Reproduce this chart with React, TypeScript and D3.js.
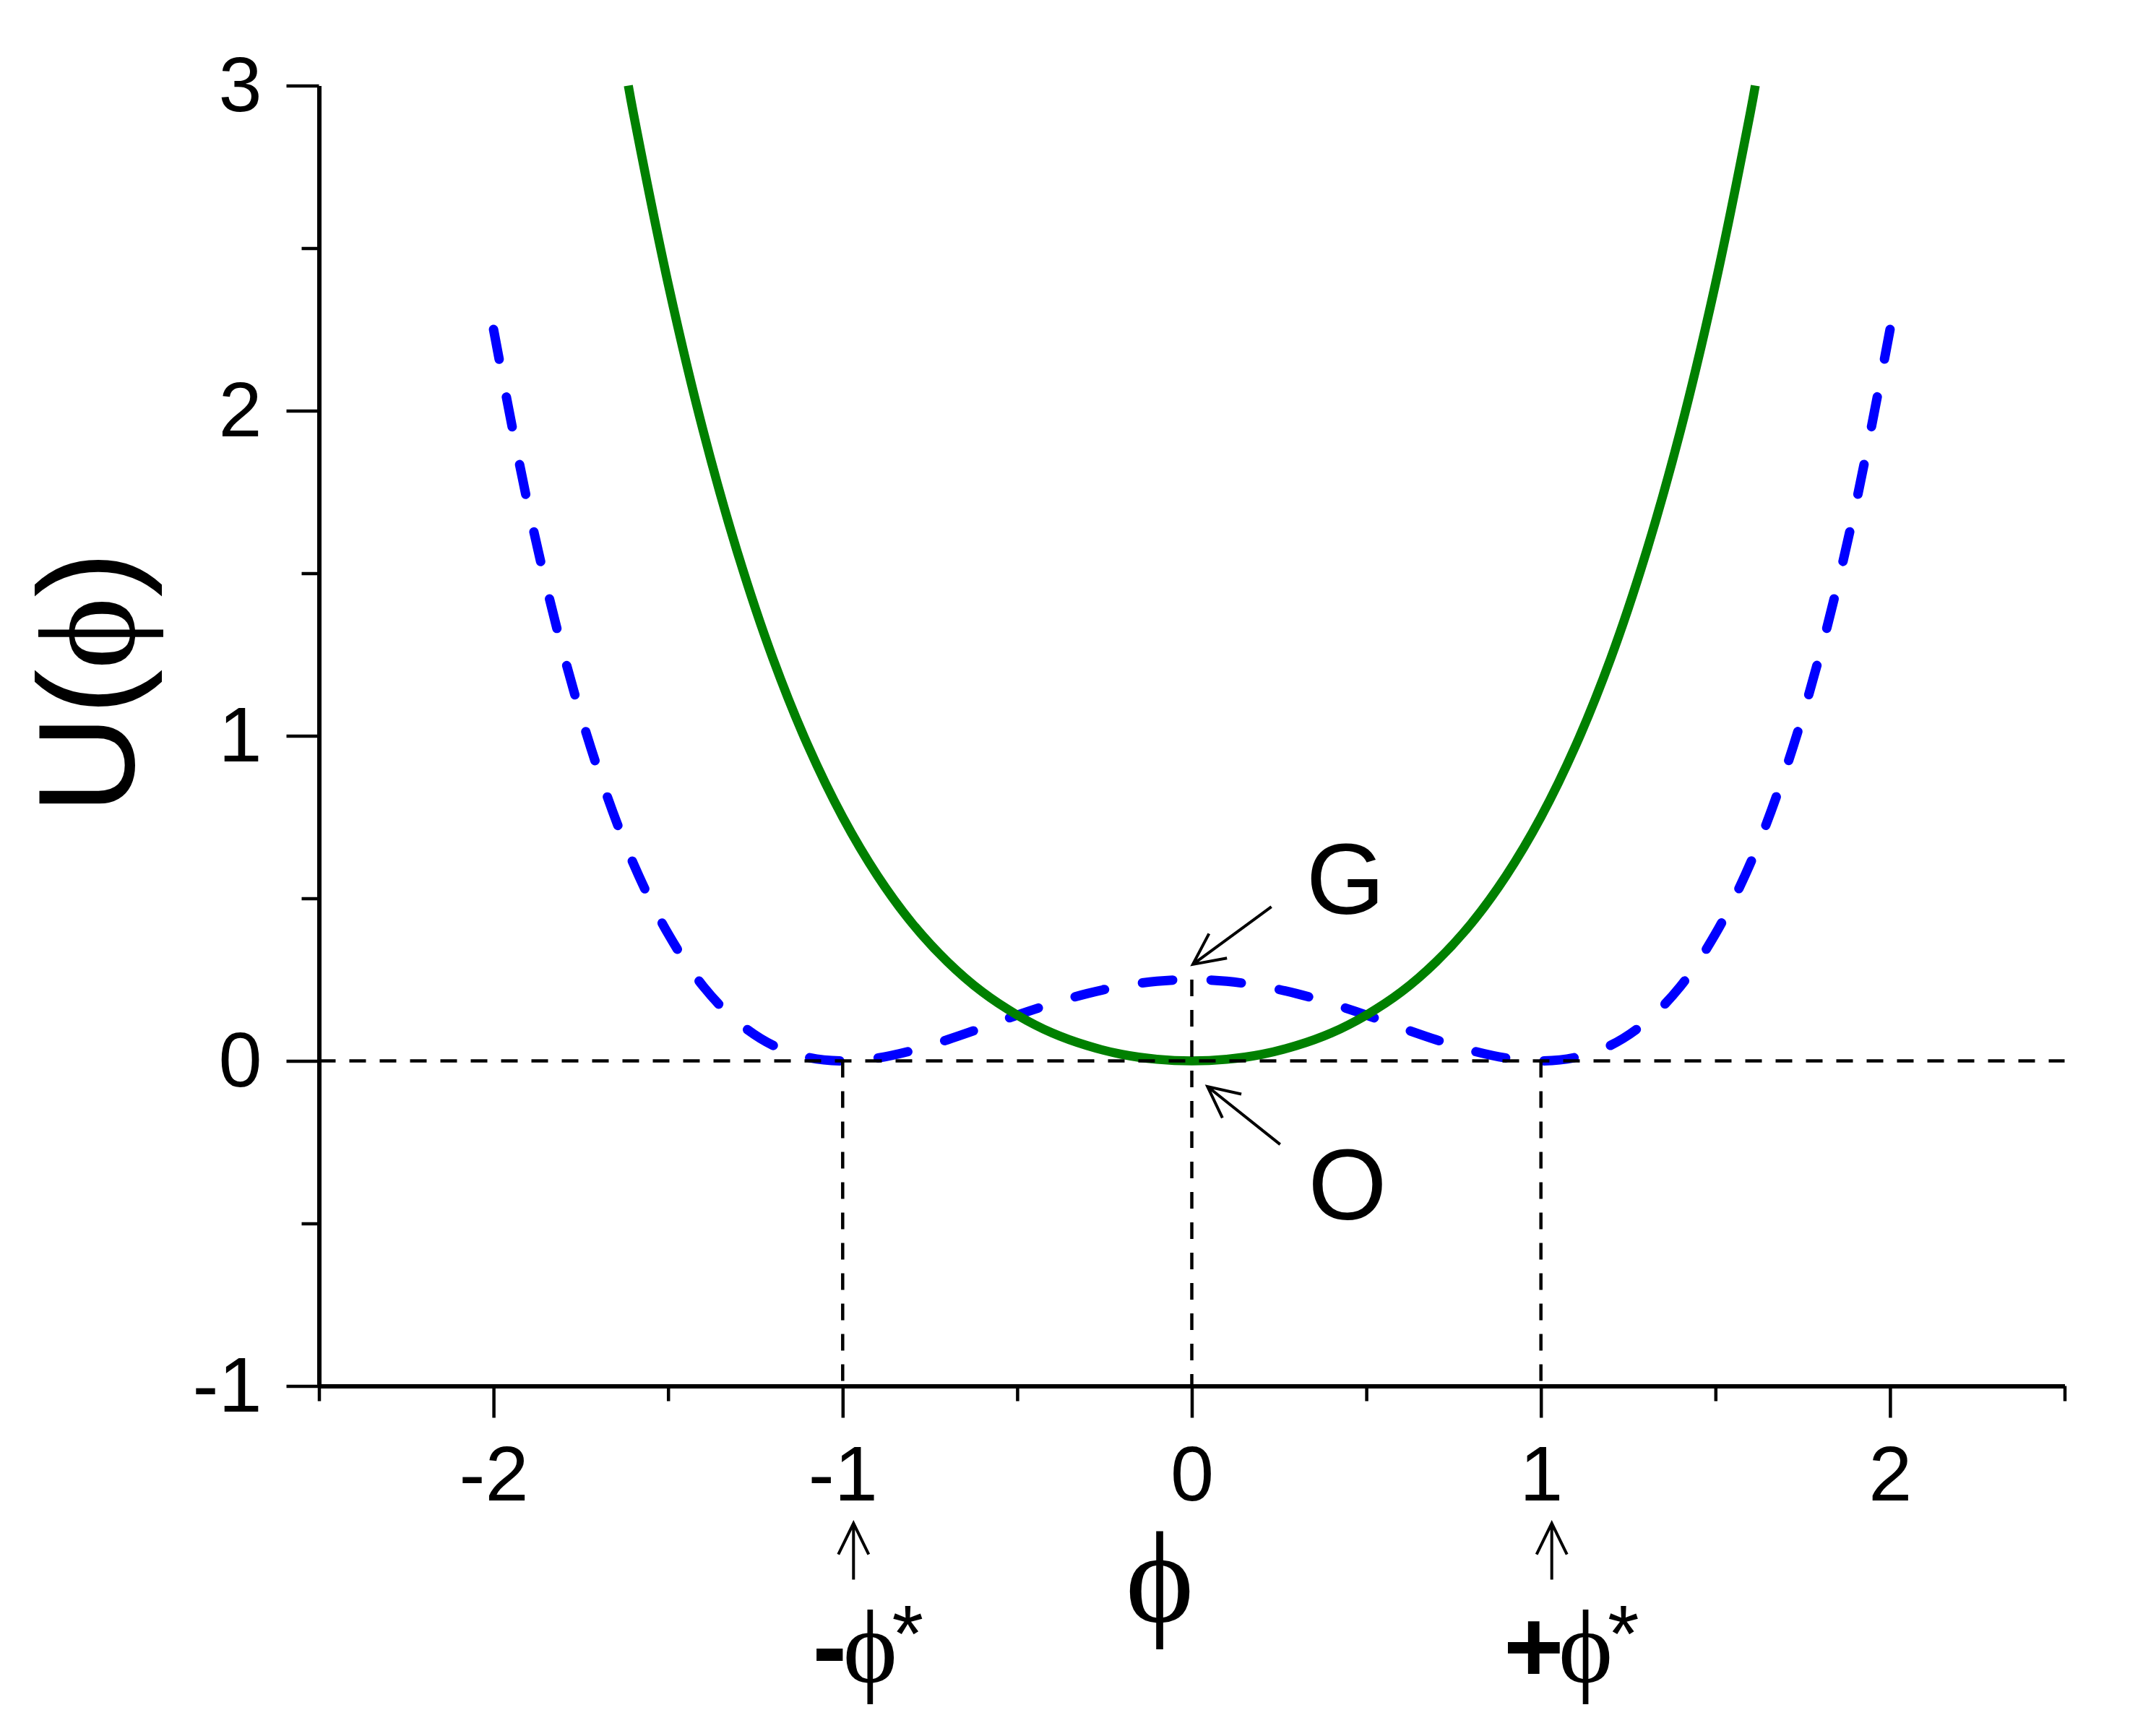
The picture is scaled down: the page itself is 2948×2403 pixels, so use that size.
import React, { useEffect, useRef } from 'react';
import * as d3 from 'd3';

// double well potential (blue, dashed)
const bluePhi = [
  -2, -1.9, -1.8, -1.7, -1.6, -1.5, -1.4, -1.3, -1.2, -1.1, -1, -0.9, -0.8, -0.7, -0.6, -0.5, -0.4, -0.3, -0.2, -0.1,
  0, 0.1, 0.2, 0.3, 0.4, 0.5, 0.6, 0.7, 0.8, 0.9, 1, 1.1, 1.2, 1.3, 1.4, 1.5, 1.6, 1.7, 1.8, 1.9, 2,
];
const blueU = [
  2.25, 1.703, 1.254, 0.893, 0.608, 0.391, 0.23, 0.119, 0.048, 0.011, 0, 0.009, 0.032, 0.065, 0.102, 0.141, 0.176, 0.207, 0.23, 0.245,
  0.25, 0.245, 0.23, 0.207, 0.176, 0.141, 0.102, 0.065, 0.032, 0.009, 0, 0.011, 0.048, 0.119, 0.23, 0.391, 0.608, 0.893, 1.254, 1.703, 2.25,
];

// single well potential (green, solid)
const greenPhi = [
  -1.614, -1.6, -1.5, -1.4, -1.3, -1.2, -1.1, -1, -0.9, -0.8, -0.7, -0.6, -0.5, -0.4, -0.3, -0.2, -0.1,
  0, 0.1, 0.2, 0.3, 0.4, 0.5, 0.6, 0.7, 0.8, 0.9, 1, 1.1, 1.2, 1.3, 1.4, 1.5, 1.6, 1.614,
];
const greenU = [
  3, 2.918, 2.391, 1.94, 1.559, 1.238, 0.971, 0.75, 0.569, 0.422, 0.305, 0.212, 0.141, 0.086, 0.047, 0.02, 0.005,
  0, 0.005, 0.02, 0.047, 0.086, 0.141, 0.212, 0.305, 0.422, 0.569, 0.75, 0.971, 1.238, 1.559, 1.94, 2.391, 2.918, 3,
];

const xMajorTicks = [-2, -1, 0, 1, 2];
const xMinorTicks = [-2.5, -1.5, -0.5, 0.5, 1.5, 2.5];
const yMajorTicks = [-1, 0, 1, 2, 3];
const yMinorTicks = [-0.5, 0.5, 1.5, 2.5];

const minima = [-1, 1];
const barrier = 0.25;

const W = 2948;
const H = 2403;
const PHI = '\u03d5';
const sans = '"Liberation Sans", Arial, sans-serif';
const serif = '"Liberation Serif", "Times New Roman", serif';

const App = () => {
  const chartRef = useRef<SVGSVGElement>(null);

  useEffect(() => {
    const margin = { top: 118.5, right: 90.5, bottom: 484.5, left: 441.5 };

    const svg = d3.select(chartRef.current);
    svg.selectAll('*').remove();

    const x = d3.scaleLinear().domain([-2.5, 2.5]).range([margin.left, W - margin.right]);
    const y = d3.scaleLinear().domain([-1, 3]).range([H - margin.bottom, margin.top]);
    const y0 = y(-1);

    const line = d3.line<[number, number]>()
      .x(d => x(d[0]))
      .y(d => y(d[1]))
      .curve(d3.curveCatmullRom.alpha(0.5));

    // blue dashed curve, dashes spread so both ends carry a dash
    const blue = svg.append('path')
      .datum(bluePhi.map((p, i) => [p, blueU[i]] as [number, number]))
      .attr('d', line)
      .attr('fill', 'none')
      .attr('stroke', '#0000ff')
      .attr('stroke-width', 13)
      .attr('stroke-linecap', 'round');
    const total = (blue.node() as SVGPathElement).getTotalLength();
    const dash = 42;
    const n = Math.round((total - dash) / 94);
    const gap = (total - dash * (n + 1)) / n;
    blue.attr('stroke-dasharray', `${dash} ${gap}`);

    // green solid curve
    svg.append('path')
      .datum(greenPhi.map((p, i) => [p, greenU[i]] as [number, number]))
      .attr('d', line)
      .attr('fill', 'none')
      .attr('stroke', '#008000')
      .attr('stroke-width', 12.5);

    // black dashed guide lines
    const guides = svg.append('g')
      .attr('stroke', '#000')
      .attr('stroke-width', 4.5)
      .attr('stroke-dasharray', '23 19')
      .attr('fill', 'none');
    guides.append('line')
      .attr('x1', x(-2.5)).attr('x2', x(2.5))
      .attr('y1', y(0)).attr('y2', y(0));
    minima.forEach(m => {
      guides.append('line')
        .attr('x1', x(m)).attr('x2', x(m))
        .attr('y1', y(0)).attr('y2', y0);
    });
    guides.append('line')
      .attr('x1', x(0)).attr('x2', x(0))
      .attr('y1', y(barrier)).attr('y2', y0);

    // axes
    const styleAxis = (g: any, tickWidth: number) => {
      g.selectAll('.tick line').attr('stroke', '#000').attr('stroke-width', tickWidth);
      g.select('.domain').attr('stroke', '#000').attr('stroke-width', 6);
      g.selectAll('text')
        .attr('fill', '#000')
        .style('font-family', sans)
        .style('font-size', '108px');
    };

    const xMinor = svg.append('g').attr('transform', `translate(0,${y0})`)
      .call(d3.axisBottom(x).tickValues(xMinorTicks).tickSize(21).tickSizeOuter(0).tickFormat(() => ''));
    xMinor.select('.domain').remove();
    styleAxis(xMinor, 4.5);

    const xMajor = svg.append('g').attr('transform', `translate(0,${y0})`)
      .call(d3.axisBottom(x).tickValues(xMajorTicks).tickSize(44).tickSizeOuter(0).tickPadding(38)
        .tickFormat(d => String(d)));
    styleAxis(xMajor, 4.5);

    const yMinor = svg.append('g').attr('transform', `translate(${x(-2.5)},0)`)
      .call(d3.axisLeft(y).tickValues(yMinorTicks).tickSize(24).tickSizeOuter(0).tickFormat(() => ''));
    yMinor.select('.domain').remove();
    styleAxis(yMinor, 4.5);

    const yMajor = svg.append('g').attr('transform', `translate(${x(-2.5)},0)`)
      .call(d3.axisLeft(y).tickValues(yMajorTicks).tickSize(45).tickSizeOuter(0).tickPadding(34)
        .tickFormat(d => String(d)));
    styleAxis(yMajor, 4.5);

    // axis titles
    const yTitle = svg.append('text')
      .attr('transform', 'translate(185,945) rotate(-90)')
      .attr('text-anchor', 'middle')
      .style('font-family', sans)
      .style('font-size', '190px');
    yTitle.append('tspan').text('U(');
    yTitle.append('tspan').style('font-family', serif).text(PHI);
    yTitle.append('tspan').text(')');

    svg.append('text')
      .attr('x', 1605)
      .attr('y', 2245)
      .attr('text-anchor', 'middle')
      .style('font-family', serif)
      .style('font-size', '180px')
      .text(PHI);

    // arrows
    const drawArrow = (x1: number, y1: number, x2: number, y2: number) => {
      const a = Math.atan2(y1 - y2, x1 - x2);
      const len = 48;
      const spread = (26 * Math.PI) / 180;
      const p = d3.path();
      p.moveTo(x1, y1);
      p.lineTo(x2, y2);
      p.moveTo(x2 + len * Math.cos(a + spread), y2 + len * Math.sin(a + spread));
      p.lineTo(x2, y2);
      p.lineTo(x2 + len * Math.cos(a - spread), y2 + len * Math.sin(a - spread));
      svg.append('path')
        .attr('d', p.toString())
        .attr('fill', 'none')
        .attr('stroke', '#000')
        .attr('stroke-width', 4);
    };

    // G: top of the barrier, O: bottom of the single well
    drawArrow(x(0.228), y(0.474), x(0.003), y(0.297));
    drawArrow(x(0.253), y(-0.257), x(0.045), y(-0.079));
    svg.append('text')
      .attr('x', x(0.44)).attr('y', y(0.452))
      .attr('text-anchor', 'middle')
      .style('font-family', sans).style('font-size', '140px')
      .text('G');
    svg.append('text')
      .attr('x', x(0.446)).attr('y', y(-0.488))
      .attr('text-anchor', 'middle')
      .style('font-family', sans).style('font-size', '140px')
      .text('O');

    // ±φ* markers under the axis
    minima.forEach(m => {
      const cx = x(m) + 15;
      drawArrow(cx, y0 + 268, cx, y0 + 190);
      const base = y0 + 409;
      const phiX = x(m) + (m < 0 ? 38 : 62);
      const label = svg.append('text')
        .attr('y', base)
        .attr('text-anchor', 'middle')
        .style('font-size', '143px');
      label.append('tspan')
        .attr('x', phiX - (m < 0 ? 56 : 72))
        .style('font-family', sans).style('font-weight', 'bold')
        .text(m < 0 ? '-' : '+');
      label.append('tspan')
        .attr('x', phiX)
        .style('font-family', serif)
        .text(PHI);
      label.append('tspan')
        .attr('x', phiX + 52).attr('y', base - 28)
        .style('font-family', sans).style('font-size', '112px')
        .text('*');
    });
  }, []);

  return (
    <svg
      ref={chartRef}
      width={W}
      height={H}
      style={{ position: 'absolute', left: 0, top: 0, background: '#fff' }}
    />
  );
};

export default App;
